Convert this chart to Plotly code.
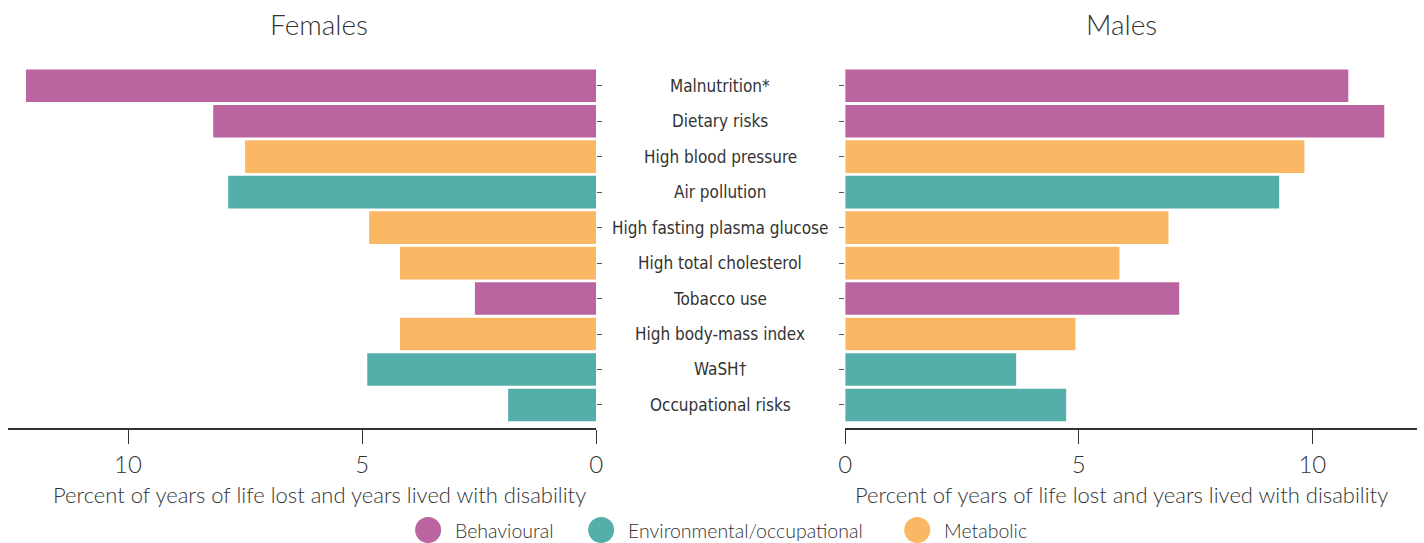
import plotly.graph_objects as go

categories = ["Malnutrition*", "Dietary risks", "High blood pressure", "Air pollution",
              "High fasting plasma glucose", "High total cholesterol", "Tobacco use",
              "High body-mass index", "WaSH\u2020", "Occupational risks"]
groups = ["Behavioural", "Behavioural", "Metabolic", "Environmental/occupational",
          "Metabolic", "Metabolic", "Behavioural", "Metabolic",
          "Environmental/occupational", "Environmental/occupational"]
females = [12.18, 8.18, 7.5, 7.86, 4.85, 4.19, 2.59, 4.19, 4.89, 1.88]
males = [10.77, 11.54, 9.83, 9.29, 6.92, 5.87, 7.15, 4.93, 3.66, 4.73]
legend_order = ["Behavioural", "Environmental/occupational", "Metabolic"]
colors = {"Behavioural": "#BA64A0", "Environmental/occupational": "#54AFAA", "Metabolic": "#FBB864"}
x_ticks = [0, 5, 10]
axis_title = "Percent of years of life lost and years lived with disability"

K = 1.0052  # horizontal compensation for the capture
W, H = 1424, 543

def X(p):
    return p * K

PL, PR, PT, PB = X(8), W, 68, 428
ML, MR, MT, MB = PL, W - PR, PT, H - PB
PW = PR - PL
PH = PB - PT

def px_x(p):
    return (X(p) - PL) / PW

def px_y(p):
    return 1 - (p - PT) / PH

bar_colors = [colors[g] for g in groups]
TXT = "#333333"
FONT = "Lato, 'Open Sans', sans-serif"
NARROW = "'DejaVu Sans Condensed', 'Liberation Sans Narrow', sans-serif"

fig = go.Figure()
fig.add_trace(go.Bar(y=categories, x=females, orientation="h", marker=dict(color=bar_colors, line=dict(width=0)),
                     xaxis="x", yaxis="y", showlegend=False, hoverinfo="x+y"))
fig.add_trace(go.Bar(y=categories, x=males, orientation="h", marker=dict(color=bar_colors, line=dict(width=0)),
                     xaxis="x2", yaxis="y2", showlegend=False, hoverinfo="x+y"))

xcommon = dict(showgrid=False, zeroline=False, showline=True, linecolor=TXT, linewidth=1.5,
               ticks="outside", ticklen=14, tickwidth=1.2, tickcolor=TXT,
               tickvals=x_ticks, ticktext=[str(t) for t in x_ticks],
               tickfont=dict(family=FONT, size=24, color=TXT, weight=300))
ycommon = dict(showgrid=False, zeroline=False, showline=False, showticklabels=False,
               ticks="outside", ticklen=5, tickcolor="#555555", tickwidth=1,
               categoryorder="array", categoryarray=categories,
               range=[len(categories) - 0.35, -0.5])

dom_left = [0, px_x(596)]
dom_right = [px_x(845), 1]
fig.update_layout(
    width=W, height=H, margin=dict(l=ML, r=MR, t=MT, b=MB),
    plot_bgcolor="white", paper_bgcolor="white", bargap=0.08,
    xaxis=dict(domain=dom_left, anchor="y", range=[(X(596) - PL) / (46.8 * K), 0], **xcommon),
    xaxis2=dict(domain=dom_right, anchor="y2", range=[0, (PR - X(845)) / (46.7 * K)], **xcommon),
    yaxis=dict(anchor="x", side="right", **ycommon),
    yaxis2=dict(anchor="x2", side="left", **ycommon),
)

ann = []
ann.append(dict(text="Females", x=px_x(319), y=px_y(24), xref="paper", yref="paper", showarrow=False,
                font=dict(family=FONT, size=28, color=TXT, weight=300), xanchor="center", yanchor="middle"))
ann.append(dict(text="Males", x=px_x(1121), y=px_y(24), xref="paper", yref="paper", showarrow=False,
                font=dict(family=FONT, size=28, color=TXT, weight=300), xanchor="center", yanchor="middle"))
for cx in (319, 1121):
    ann.append(dict(text=axis_title, x=px_x(cx), y=px_y(494), xref="paper", yref="paper", showarrow=False,
                    font=dict(family=FONT, size=22, color=TXT, weight=300), xanchor="center", yanchor="middle"))
for c in categories:
    ann.append(dict(text=c, x=px_x(720), y=c, xref="paper", yref="y", showarrow=False,
                    font=dict(family=NARROW, size=17, color=TXT), xanchor="center", yanchor="middle"))

shapes = []
leg_x = [428, 601, 917]
for g, lx in zip(legend_order, leg_x):
    shapes.append(dict(type="circle", xref="paper", yref="paper", xsizemode="pixel", ysizemode="pixel",
                       xanchor=px_x(lx), yanchor=px_y(530), x0=-13, x1=13, y0=-13, y1=13,
                       fillcolor=colors[g], line=dict(width=0)))
    ann.append(dict(text=g, x=px_x(lx + 25), y=px_y(530), xref="paper", yref="paper", showarrow=False,
                    font=dict(family=FONT, size=19.5, color=TXT, weight=300), xanchor="left", yanchor="middle"))

fig.update_layout(annotations=ann, shapes=shapes)
fig.write_html("out.html", config={"displayModeBar": False},
               post_script="document.body.style.margin='0';document.documentElement.style.overflow='hidden';document.body.style.overflow='hidden';")
